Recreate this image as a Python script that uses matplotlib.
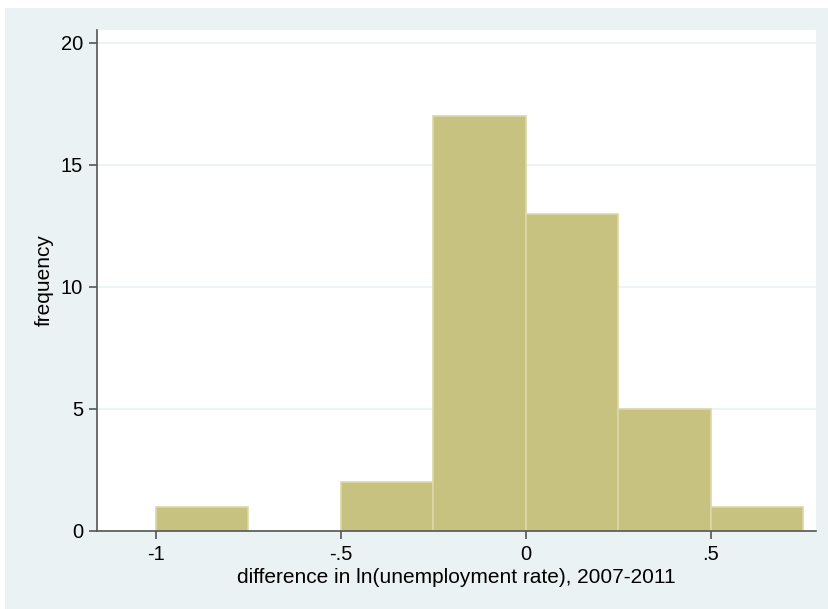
import matplotlib
matplotlib.use("Agg")
import matplotlib.pyplot as plt
from matplotlib.patches import Rectangle

# histogram of log-difference in unemployment rate, bin width .25
bin_edges = [-1.0, -0.75, -0.5, -0.25, 0.0, 0.25, 0.5, 0.75]
counts = [1, 0, 2, 17, 13, 5, 1]
xticks = [-1, -0.5, 0, 0.5]
xtick_labels = ["-1", "-.5", "0", ".5"]
yticks = [0, 5, 10, 15, 20]

bg = "#eaf2f3"
bar_color = "#c8c281"
bar_edge = "#dcd8a8"

plt.rcParams["font.family"] = ["Liberation Sans", "DejaVu Sans"]

fig = plt.figure(figsize=(8.29, 6.09), dpi=100, facecolor="white")
fig.patches.append(Rectangle((5 / 829, 0), 1, 1 - 8 / 609, transform=fig.transFigure,
                             facecolor=bg, edgecolor="none", zorder=-10))

ax = fig.add_axes([97 / 829, 78 / 609, 719 / 829, 501 / 609])
ax.set_facecolor("white")

widths = [b - a for a, b in zip(bin_edges[:-1], bin_edges[1:])]
edges = [bar_edge if c > 0 else "none" for c in counts]
ax.bar(bin_edges[:-1], counts, width=widths, align="edge", color=bar_color,
       edgecolor=edges, linewidth=1.2, zorder=3)

ax.set_xlim(-1.159, 0.784)
ax.set_ylim(0, 20.53)
ax.set_yticks(yticks)
ax.set_xticks(xticks)
ax.set_xticklabels(xtick_labels)
ax.yaxis.grid(True, color=bg, linewidth=1.2, zorder=0)
ax.set_axisbelow(True)

for side in ["top", "right"]:
    ax.spines[side].set_visible(False)
for side in ["left", "bottom"]:
    ax.spines[side].set_color("#555555")
    ax.spines[side].set_linewidth(1.2)
    ax.spines[side].set_zorder(4)
ax.tick_params(direction="out", length=6, width=1.2, color="#555555", labelsize=14.5, pad=4)

ax.set_ylabel("frequency", fontsize=15, labelpad=5)
ax.set_xlabel("difference in ln(unemployment rate), 2007-2011", fontsize=15, labelpad=3)

fig.savefig("out.png", dpi=100, facecolor=fig.get_facecolor())
